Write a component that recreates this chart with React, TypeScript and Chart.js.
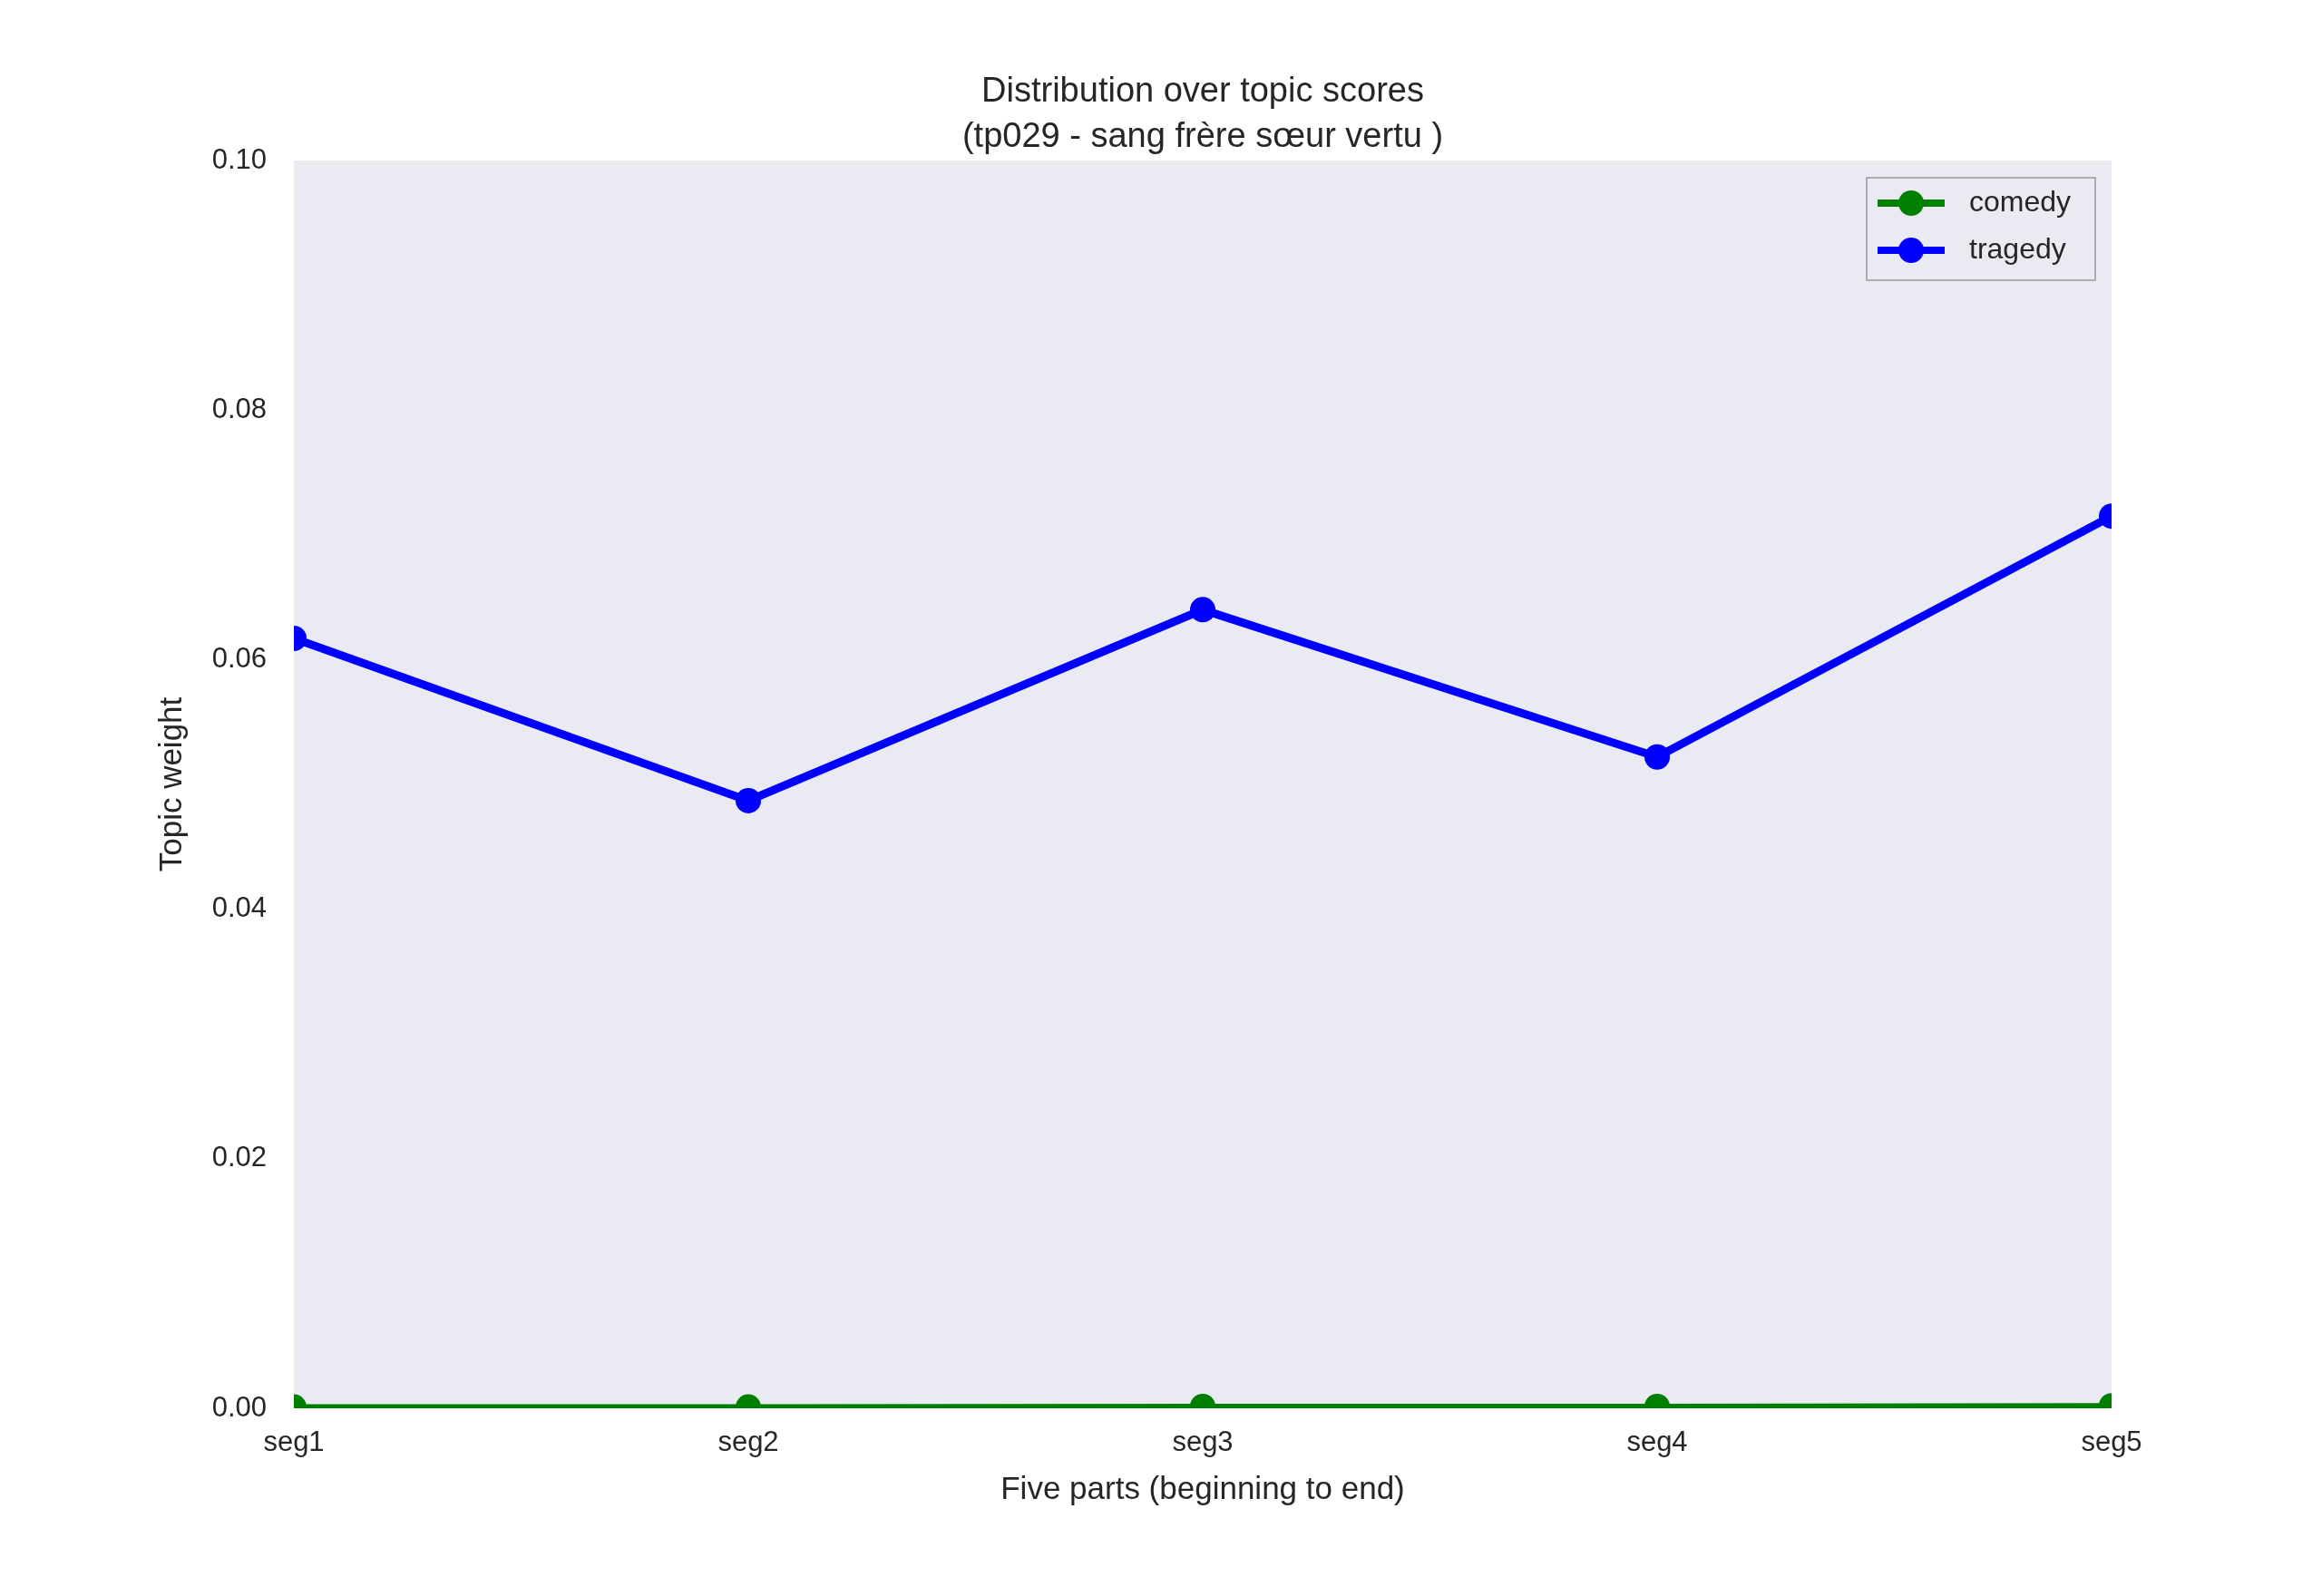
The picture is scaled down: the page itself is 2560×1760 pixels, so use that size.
import { Chart, registerables } from "chart.js";
import { useEffect, useRef } from "react";

Chart.register(...registerables);

const segments = ["seg1", "seg2", "seg3", "seg4", "seg5"];
const comedy = [0.0001, 0.0001, 0.00015, 0.00015, 0.0002];
const tragedy = [0.0617, 0.0487, 0.064, 0.0522, 0.0715];
const yTicks = [0, 0.02, 0.04, 0.06, 0.08, 0.1];

const FONT = "'Liberation Sans', Arial, sans-serif";

// plot-area background, titles and legend box drawn by hand
const decor = {
  id: "decor",
  beforeDraw(chart: any) {
    const { ctx, chartArea: a } = chart;
    ctx.save();
    ctx.fillStyle = "#EAEAF2";
    ctx.fillRect(a.left, a.top, a.right - a.left, a.bottom - a.top);
    ctx.restore();
  },
  afterDraw(chart: any) {
    const { ctx, chartArea: a } = chart;
    ctx.save();
    ctx.fillStyle = "#262626";
    ctx.textAlign = "center";
    ctx.textBaseline = "middle";
    ctx.font = `38px ${FONT}`;
    const cx = (a.left + a.right) / 2;
    ctx.fillText("Distribution over topic scores", cx, 102);
    ctx.fillText("(tp029 - sang frère sœur vertu )", cx, 152);
    // legend
    const lw = 252, lh = 113;
    const lx = a.right - 18 - lw, ly = a.top + 19;
    ctx.fillStyle = "#EAEAF2";
    ctx.fillRect(lx, ly, lw, lh);
    ctx.strokeStyle = "#999";
    ctx.lineWidth = 1.5;
    ctx.strokeRect(lx, ly, lw, lh);
    const items = [
      { label: "comedy", color: "green" },
      { label: "tragedy", color: "blue" },
    ];
    items.forEach((it, i) => {
      const y = ly + 28 + i * 52;
      ctx.strokeStyle = it.color;
      ctx.lineWidth = 8;
      ctx.beginPath();
      ctx.moveTo(lx + 12, y);
      ctx.lineTo(lx + 86, y);
      ctx.stroke();
      ctx.fillStyle = it.color;
      ctx.beginPath();
      ctx.arc(lx + 49, y, 14, 0, Math.PI * 2);
      ctx.fill();
      ctx.fillStyle = "#262626";
      ctx.textAlign = "left";
      ctx.font = `32px ${FONT}`;
      ctx.fillText(it.label, lx + 113, y);
    });
    ctx.restore();
  },
};

export default function App() {
  const ref = useRef<HTMLCanvasElement>(null);

  useEffect(() => {
    if (!ref.current) return;
    const chart = new Chart(ref.current, {
      type: "line",
      data: {
        labels: segments,
        datasets: [
          {
            label: "comedy",
            data: comedy,
            borderColor: "green",
            backgroundColor: "green",
            borderWidth: 6,
            pointRadius: 14,
            pointBorderWidth: 0,
            clip: 0,
          },
          {
            label: "tragedy",
            data: tragedy,
            borderColor: "blue",
            backgroundColor: "blue",
            borderWidth: 9,
            pointRadius: 14,
            pointBorderWidth: 0,
            clip: 0,
          },
        ],
      },
      options: {
        animation: false,
        responsive: false,
        devicePixelRatio: 1,
        layout: { padding: { top: 177, right: 232, left: 165, bottom: 92 } },
        plugins: { legend: { display: false }, title: { display: false }, tooltip: { enabled: false } },
        scales: {
          x: {
            offset: false,
            grid: { display: false, drawTicks: false },
            border: { display: false },
            ticks: { color: "#262626", font: { family: FONT, size: 31 }, padding: 20 },
            title: {
              display: true,
              text: "Five parts (beginning to end)",
              color: "#262626",
              font: { family: FONT, size: 35 },
              padding: { top: 6 },
            },
            afterFit: (s: any) => { s.height = 115; },
          },
          y: {
            min: 0,
            max: 0.1,
            afterBuildTicks: (s: any) => { s.ticks = yTicks.map((v) => ({ value: v })); },
            grid: { display: false, drawTicks: false },
            border: { display: false },
            ticks: {
              color: "#262626",
              font: { family: FONT, size: 31 },
              padding: 30,
              callback: (v: any) => Number(v).toFixed(2),
            },
            title: {
              display: true,
              text: "Topic weight",
              color: "#262626",
              font: { family: FONT, size: 35 },
              padding: { bottom: 0 },
            },
            afterFit: (s: any) => { s.width = 159; },
          },
        },
      },
      plugins: [decor],
    });
    return () => chart.destroy();
  }, []);

  return (
    <canvas ref={ref} width={2560} height={1760} style={{ display: "block", position: "absolute", left: 0, top: 0 }} />
  );
}
